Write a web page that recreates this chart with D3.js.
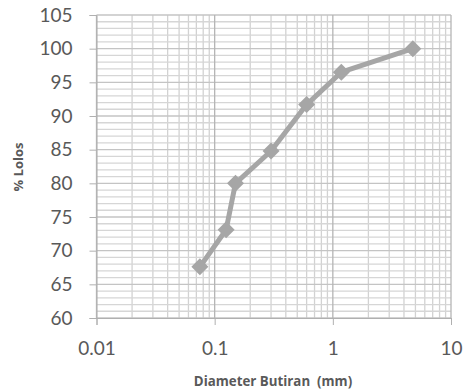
<!DOCTYPE html>
<html>
<head>
<meta charset="utf-8">
<script src="https://cdn.jsdelivr.net/npm/d3@7"></script>
<style>
  body { margin: 0; background: #fff; }
  svg { display: block; }
</style>
</head>
<body>
<div id="grafico"></div>
<script>
// Datos
const diameters = [0.075, 0.125, 0.15, 0.3, 0.6, 1.18, 4.75];
const passing = [67.6, 73.1, 80.0, 84.8, 91.7, 96.5, 100.0];
const xTicks = [0.01, 0.1, 1, 10];
const yTicks = [60, 65, 70, 75, 80, 85, 90, 95, 100, 105];

const width = 467, height = 391;
const margin = { top: 15, right: 16, bottom: 73, left: 96.5 };

const svg = d3.select('#grafico')
    .append('svg')
    .attr('width', width)
    .attr('height', height);

// Escalas
const x = d3.scaleLog()
    .domain([0.01, 10])
    .range([margin.left, width - margin.right]);

const y = d3.scaleLinear()
    .domain([60, 105])
    .range([height - margin.bottom, margin.top]);

// Rejilla menor
const xMinor = [];
for (let d = 0.01; d < 10; d *= 10) {
    for (let k = 2; k <= 9; k++) xMinor.push(d * k);
}
const yMinor = d3.range(60, 106, 1).filter(v => v % 5 !== 0);

const grid = svg.append('g');

grid.selectAll('.xminor')
    .data(xMinor)
    .join('line')
    .attr('x1', d => x(d)).attr('x2', d => x(d))
    .attr('y1', y(60)).attr('y2', y(105))
    .attr('stroke', '#d2d2d2')
    .attr('stroke-width', 1.3);

grid.selectAll('.yminor')
    .data(yMinor)
    .join('line')
    .attr('x1', x(0.01)).attr('x2', x(10))
    .attr('y1', d => y(d)).attr('y2', d => y(d))
    .attr('stroke', '#d6d6d6')
    .attr('stroke-width', 1.3);

// Rejilla mayor
grid.selectAll('.ymajor')
    .data(yTicks)
    .join('line')
    .attr('x1', x(0.01)).attr('x2', x(10))
    .attr('y1', d => y(d)).attr('y2', d => y(d))
    .attr('stroke', '#c4c4c4')
    .attr('stroke-width', 1.3);

grid.selectAll('.xmajor')
    .data(xTicks)
    .join('line')
    .attr('x1', d => x(d)).attr('x2', d => x(d))
    .attr('y1', y(60)).attr('y2', y(105))
    .attr('stroke', '#b5b5b5')
    .attr('stroke-width', 1.3);

// Eje X
const ejeX = svg.append('g')
    .attr('transform', `translate(0, ${y(60)})`)
    .call(d3.axisBottom(x).tickValues(xTicks).tickFormat(d => String(d)).tickSize(7).tickPadding(17));
ejeX.select('.domain').attr('stroke', '#b0b0b0');
ejeX.selectAll('.tick line').attr('stroke', '#b0b0b0');
ejeX.selectAll('text')
    .attr('fill', '#595959')
    .style('font-family', 'Lato, "Open Sans", sans-serif')
    .style('font-size', '19px');

// Eje Y
const ejeY = svg.append('g')
    .attr('transform', `translate(${x(0.01)}, 0)`)
    .call(d3.axisLeft(y).tickValues(yTicks).tickSize(7).tickPadding(17));
ejeY.select('.domain').attr('stroke', '#b0b0b0');
ejeY.selectAll('.tick line').attr('stroke', '#b0b0b0');
ejeY.selectAll('text')
    .attr('fill', '#595959')
    .style('font-family', 'Lato, "Open Sans", sans-serif')
    .style('font-size', '19px');

// Línea y marcadores
const pts = diameters.map((d, i) => [d, passing[i]]);

svg.append('path')
    .datum(pts)
    .attr('fill', 'none')
    .attr('stroke', '#a6a6a6')
    .attr('stroke-width', 5)
    .attr('stroke-linejoin', 'round')
    .attr('d', d3.line().x(d => x(d[0])).y(d => y(d[1])));

svg.selectAll('.marker')
    .data(pts)
    .join('path')
    .attr('transform', d => `translate(${x(d[0])}, ${y(d[1])})`)
    .attr('d', 'M0,-8.5L8.5,0L0,8.5L-8.5,0Z')
    .attr('fill', '#a6a6a6');

// Títulos de ejes
svg.append('text')
    .attr('transform', `translate(23, 167) rotate(-90)`)
    .attr('text-anchor', 'middle')
    .attr('fill', '#595959')
    .style('font-family', '"Open Sans", sans-serif')
    .style('font-weight', 'bold')
    .style('font-size', '13px')
    .text('% Lolos');

svg.append('text')
    .attr('x', 273)
    .attr('y', 386)
    .attr('text-anchor', 'middle')
    .attr('fill', '#595959')
    .style('font-family', '"Open Sans", sans-serif')
    .style('font-weight', 'bold')
    .style('font-size', '13.3px')
    .style('white-space', 'pre')
    .text('Diameter Butiran  (mm)');
</script>
</body>
</html>
